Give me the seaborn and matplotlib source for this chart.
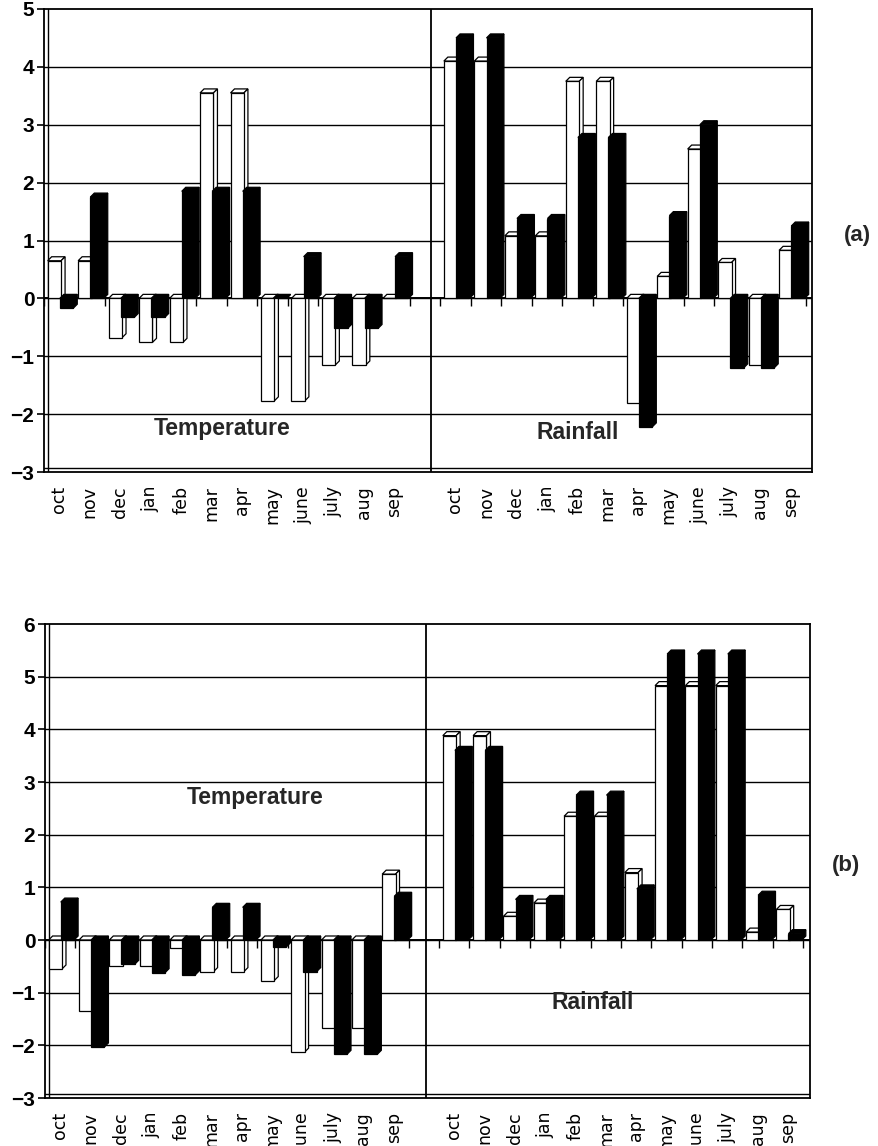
import numpy as np
import pandas as pd
import matplotlib
matplotlib.use("Agg")
import matplotlib.pyplot as plt
from matplotlib.patches import Polygon
import seaborn as sns

months = ['oct', 'nov', 'dec', 'jan', 'feb', 'mar', 'apr', 'may', 'june', 'july', 'aug', 'sep']

# panel (a)
a_temp_white = [0.65, 0.65, -0.68, -0.76, -0.76, 3.55, 3.55, -1.77, -1.77, -1.15, -1.15, 0.0]
a_temp_black = [-0.17, 1.75, -0.33, -0.33, 1.85, 1.85, 1.85, 0.0, 0.72, -0.52, -0.52, 0.72]
a_rain_white = [4.1, 4.1, 1.08, 1.08, 3.75, 3.75, -1.8, 0.38, 2.58, 0.62, -1.15, 0.83]
a_rain_black = [4.5, 4.5, 1.38, 1.38, 2.78, 2.78, -2.22, 1.43, 3.0, -1.2, -1.2, 1.25]

# panel (b)
b_temp_white = [-0.55, -1.35, -0.49, -0.49, -0.15, -0.6, -0.6, -0.77, -2.13, -1.67, -1.67, 1.25]
b_temp_black = [0.72, -2.03, -0.46, -0.62, -0.66, 0.62, 0.62, -0.13, -0.6, -2.17, -2.17, 0.83]
b_rain_white = [3.88, 3.88, 0.45, 0.7, 2.35, 2.35, 1.28, 4.83, 4.83, 4.83, 0.15, 0.58]
b_rain_black = [3.6, 3.6, 0.77, 0.77, 2.75, 2.75, 0.97, 5.43, 5.43, 5.43, 0.85, 0.12]

sns.set_style("white")
plt.rcParams['font.family'] = ['Liberation Sans', 'DejaVu Sans']

fig = plt.figure(figsize=(8.79, 11.46), dpi=100)
W, H = 879, 1146


def add_depth(ax, bars, face, dx, dy, z):
    # fake 3d: a top face and a right side face on every bar
    for p in bars:
        x0 = p.get_x()
        x1 = x0 + p.get_width()
        lo = min(p.get_y(), p.get_y() + p.get_height())
        hi = max(p.get_y(), p.get_y() + p.get_height())
        top = Polygon([(x0, hi), (x1, hi), (x1 + dx, hi + dy), (x0 + dx, hi + dy)],
                      closed=True, fc=face, ec='black', lw=0.9, zorder=z)
        side = Polygon([(x1, lo), (x1 + dx, lo + dy), (x1 + dx, hi + dy), (x1, hi)],
                       closed=True, fc=face, ec='black', lw=0.9, zorder=z)
        ax.add_patch(top)
        ax.add_patch(side)
        p.set_zorder(z + 0.05)


def draw_panel(box, temp_w, temp_b, rain_w, rain_b, ylim, xright, divider, labels):
    left, top, right, bottom = box
    ax = fig.add_axes([left / W, 1 - bottom / H, (right - left) / W, (bottom - top) / H])
    ax.set_xlim(-0.5, xright)
    ax.set_ylim(*ylim)

    # 12 temperature slots, one empty slot, 12 rainfall slots
    slots = np.r_[np.arange(12), np.arange(13, 25)]
    white = pd.DataFrame({'pos': slots - 0.16, 'val': temp_w + rain_w})
    black = pd.DataFrame({'pos': slots + 0.24, 'val': temp_b + rain_b})

    bb = ax.get_window_extent()
    dx = 4.0 * (xright + 0.5) / bb.width
    dy = 4.0 * (ylim[1] - ylim[0]) / bb.height

    n0 = len(ax.patches)
    sns.barplot(data=white, x='pos', y='val', native_scale=True, width=0.44, orient='x',
                color='white', saturation=1, edgecolor='black', linewidth=0.9,
                errorbar=None, ax=ax)
    wbars = list(ax.patches)[n0:]
    add_depth(ax, wbars, 'white', dx, dy, 3)
    n1 = len(ax.patches)
    sns.barplot(data=black, x='pos', y='val', native_scale=True, width=0.44, orient='x',
                color='black', saturation=1, edgecolor='black', linewidth=0.9,
                errorbar=None, ax=ax)
    bbars = list(ax.patches)[n1:]
    add_depth(ax, bbars, 'black', dx, dy, 4)

    ax.set_xlim(-0.5, xright)
    ax.set_ylim(*ylim)

    # gridlines, divider and zero floor
    for v in range(int(ylim[0]) + 1, int(ylim[1])):
        ax.axhline(v, color='black', lw=1.0, zorder=1)
    ax.axvline(divider, color='black', lw=1.3, zorder=1)
    ax.axhline(0, color='black', lw=1.4, zorder=2)
    ax.axhline(ylim[0] + dy, color='black', lw=1.0, zorder=1)
    ax.axvline(-0.5 + dx, color='black', lw=1.0, zorder=1)
    bounds = np.r_[np.arange(-0.5, 12, 1.0), np.arange(12.5, 25, 1.0)]
    ax.vlines(bounds, 0, -8 * (ylim[1] - ylim[0]) / bb.height, color='black', lw=1.0, zorder=2)

    ax.set_xticks(slots)
    ax.set_xticklabels(months + months, rotation=90, fontsize=12.5,
                       family=['DejaVu Sans'], color='black')
    ax.set_xticks(bounds, minor=True)
    ax.tick_params(axis='x', which='major', length=0, pad=10)
    ax.tick_params(axis='x', which='minor', length=8, width=1.2, direction='out', color='black')
    ax.set_yticks(range(int(ylim[0]), int(ylim[1]) + 1))
    ax.tick_params(axis='y', length=5, width=1.2, direction='out', color='black',
                   labelsize=15, labelcolor='black', pad=2)
    for t in ax.get_yticklabels():
        t.set_fontweight('bold')
    ax.tick_params(bottom=True, left=True)
    for s in ax.spines.values():
        s.set_color('black')
        s.set_linewidth(1.3)
    ax.set_xlabel('')
    ax.set_ylabel('')

    for (x, y, t) in labels:
        ax.text(x, y, t, ha='center', va='center', fontsize=16.5, fontweight='bold', zorder=6)
    return ax


draw_panel((44, 9, 812, 472), a_temp_white, a_temp_black, a_rain_white, a_rain_black,
           (-3, 5), 24.7, 12.2,
           [(5.34, -2.24, 'Temperature'), (17.02, -2.31, 'Rainfall')])
draw_panel((45, 624, 810, 1098), b_temp_white, b_temp_black, b_rain_white, b_rain_black,
           (-3, 6), 24.73, 12.05,
           [(6.43, 2.7, 'Temperature'), (17.57, -1.18, 'Rainfall')])

fig.text(857 / W, 1 - 235 / H, '(a)', ha='center', va='center', fontsize=16, fontweight='bold')
fig.text(846 / W, 1 - 866 / H, '(b)', ha='center', va='center', fontsize=16, fontweight='bold')

fig.savefig("out.png", dpi=100)
